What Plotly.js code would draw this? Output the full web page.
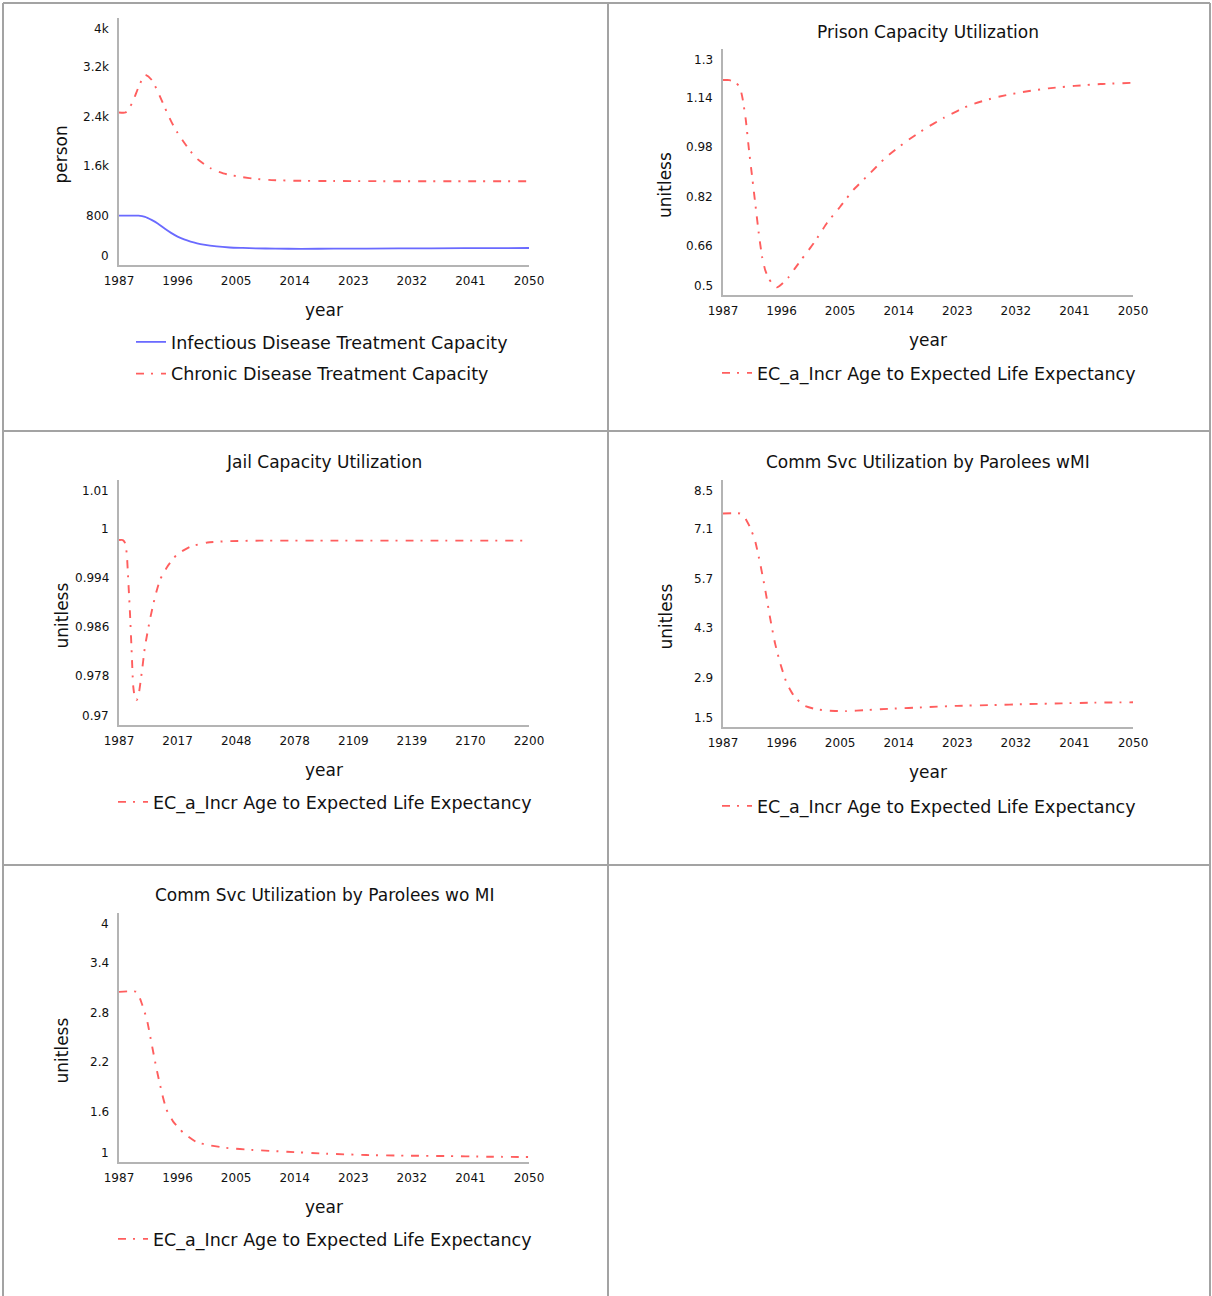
<!DOCTYPE html>
<html><head><meta charset="utf-8">
<script src="https://cdn.plot.ly/plotly-3.0.1.min.js"></script>
<style>html,body{margin:0;padding:0;background:#fff}#chart{width:1212px;height:1296px}</style>
</head><body><div id="chart"></div>
<script>
// ---------- data ----------
// Panel 1 (no title): person
const p1InfYears = [1987,1990,1991,1992,1993,1994,1995,1996,1997,1998,1999,2000,2002,2004,2006,2008,2011,2015,2020,2030,2040,2050];
const p1Infectious = [798,798,780,730,670,590,520,460,415,380,352,330,300,283,276,270,265,262,264,268,272,275];
const p1ChrYears = [1987,1988,1989,1990,1991,1992,1993,1994,1995,1996,1997,1998,1999,2000,2001,2002,2003,2004,2005,2006,2008,2010,2014,2020,2030,2040,2050];
const p1Chronic = [2470,2470,2620,2880,3080,3000,2800,2560,2330,2140,1985,1840,1720,1640,1570,1520,1485,1460,1440,1422,1395,1378,1365,1360,1357,1357,1357];
const p1YTicks = [0,800,1600,2400,3200,4000];
const p1YLabels = ['0','800','1.6k','2.4k','3.2k','4k'];

// Panel 2: Prison Capacity Utilization
const p2Years = [1987,1988,1989,1989.6,1990,1990.5,1991,1991.5,1992,1992.5,1993,1993.5,1994,1994.5,1995.3,1996,1997,1998,1999,2001,2003,2005,2007,2009.6,2012,2015,2018,2021,2025,2029,2033,2037,2041,2045,2050];
const p2Values = [1.199,1.199,1.19,1.175,1.14,1.07,0.97,0.88,0.79,0.70,0.625,0.58,0.555,0.538,0.525,0.535,0.556,0.585,0.614,0.67,0.735,0.787,0.841,0.896,0.947,0.997,1.04,1.077,1.118,1.143,1.16,1.172,1.18,1.186,1.19];
const p2YTicks = [0.5,0.66,0.82,0.98,1.14,1.3];
const p2YLabels = ['0.5','0.66','0.82','0.98','1.14','1.3'];

// Panel 3: Jail Capacity Utilization
const p3Years = [1987,1989,1990,1991,1991.8,1992.7,1993.6,1994.4,1995.3,1996.2,1997,1998.8,2000.5,2003,2005.7,2008.3,2012,2017,2024,2033,2043,2060,2100,2150,2200];
const p3Values = [1.0002,1.0002,0.9998,0.9981,0.9937,0.9883,0.9818,0.9763,0.9744,0.9741,0.9746,0.9785,0.9828,0.9871,0.9909,0.9937,0.9958,0.9978,0.9991,0.9998,1.0,1.0001,1.0001,1.0001,1.0001];
const p3XTicks = [1987,2017.43,2047.86,2078.29,2108.71,2139.14,2169.57,2200];
const p3XLabels = ['1987','2017','2048','2078','2109','2139','2170','2200'];
const p3YTicks = [0.97,0.978,0.986,0.994,1.002,1.01];
const p3YLabels = ['0.97','0.978','0.986','0.994','1','1.01'];

// Panel 4: Comm Svc Utilization by Parolees wMI
const p4Years = [1987,1989.6,1990.3,1991.1,1991.9,1992.7,1993.5,1994.2,1995,1995.8,1996.8,1997.8,1999.3,2001.4,2003.4,2006,2009,2013,2018,2023,2028,2034,2039,2044,2050];
const p4Values = [7.55,7.55,7.45,7.18,6.8,6.14,5.38,4.63,3.87,3.3,2.74,2.41,2.12,2.0,1.96,1.95,1.98,2.02,2.06,2.1,2.12,2.15,2.17,2.19,2.2];
const p4YTicks = [1.5,2.9,4.3,5.7,7.1,8.5];
const p4YLabels = ['1.5','2.9','4.3','5.7','7.1','8.5'];

// Panel 5: Comm Svc Utilization by Parolees wo MI
const p5Years = [1987,1989.7,1990.5,1991.3,1992,1992.8,1993.6,1994.3,1995.3,1996.9,1998.9,2001,2003.5,2007.6,2012.8,2018.9,2025,2031,2037,2043.5,2050];
const p5Values = [3.05,3.05,2.91,2.71,2.43,2.11,1.83,1.63,1.49,1.35,1.24,1.2,1.17,1.145,1.124,1.1,1.084,1.076,1.072,1.064,1.06];
const p5YTicks = [1,1.6,2.2,2.8,3.4,4];
const p5YLabels = ['1','1.6','2.2','2.8','3.4','4'];

const stdXTicks = [1987,1996,2005,2014,2023,2032,2041,2050];
const seriesName = 'EC_a_Incr Age to Expected Life Expectancy';

// ---------- styling ----------
const W = 1212, H = 1296;
const FONT = 'DejaVu Sans, Verdana, sans-serif';
const TXT = '#111';
const AXIS = '#b4b4b4';
const RED = '#ff5e5e';
const BLUE = '#6a6aff';
const DASH = '8px,7px,2px,8px';
const px = v => v / W;
const py = v => 1 - v / H;

const redLine = s => ({color: RED, width: 1.9, dash: DASH, shape: 'spline', smoothing: s});

const traces = [
  {x: p1InfYears, y: p1Infectious, name: 'Infectious Disease Treatment Capacity', xaxis: 'x', yaxis: 'y', legend: 'legend', legendgroup: 'a',
   mode: 'lines', line: {color: BLUE, width: 1.8, shape: 'spline', smoothing: 0.6}},
  {x: p1ChrYears, y: p1Chronic, name: 'Chronic Disease Treatment Capacity', xaxis: 'x', yaxis: 'y', legend: 'legend', legendgroup: 'b',
   mode: 'lines', line: redLine(0.6)},
  {x: p2Years, y: p2Values, name: seriesName, xaxis: 'x2', yaxis: 'y2', legend: 'legend2', mode: 'lines', line: redLine(0.5)},
  {x: p3Years, y: p3Values, name: seriesName, xaxis: 'x3', yaxis: 'y3', legend: 'legend3', mode: 'lines', line: redLine(0.5)},
  {x: p4Years, y: p4Values, name: seriesName, xaxis: 'x4', yaxis: 'y4', legend: 'legend4', mode: 'lines', line: redLine(0.5)},
  {x: p5Years, y: p5Values, name: seriesName, xaxis: 'x5', yaxis: 'y5', legend: 'legend5', mode: 'lines', line: redLine(0.5)}
];

// panel geometry in pixels: [left, right, bottom, top]
const panels = [
  {g: [119, 529, 265, 18], xr: [1987, 2050], xt: stdXTicks, xl: stdXTicks.map(String), yr: [0, 4000], yt: p1YTicks, yl: p1YLabels, ytitle: 'person', title: null, leg: [131, 358]},
  {g: [723, 1133, 295, 49], xr: [1987, 2050], xt: stdXTicks, xl: stdXTicks.map(String), yr: [0.5, 1.3], yt: p2YTicks, yl: p2YLabels, ytitle: 'unitless', title: ['Prison Capacity Utilization', 32], leg: [717, 373]},
  {g: [119, 529, 725, 480], xr: [1987, 2200], xt: p3XTicks, xl: p3XLabels, yr: [0.97, 1.01], yt: p3YTicks, yl: p3YLabels, ytitle: 'unitless', title: ['Jail Capacity Utilization', 462], leg: [113, 802]},
  {g: [723, 1133, 727, 480], xr: [1987, 2050], xt: stdXTicks, xl: stdXTicks.map(String), yr: [1.5, 8.5], yt: p4YTicks, yl: p4YLabels, ytitle: 'unitless', title: ['Comm Svc Utilization by Parolees wMI', 462], leg: [717, 806]},
  {g: [119, 529, 1162, 913], xr: [1987, 2050], xt: stdXTicks, xl: stdXTicks.map(String), yr: [1, 4], yt: p5YTicks, yl: p5YLabels, ytitle: 'unitless', title: ['Comm Svc Utilization by Parolees wo MI', 895], leg: [113, 1239]}
];

const layout = {
  width: W, height: H,
  margin: {l: 0, r: 0, t: 0, b: 0},
  paper_bgcolor: '#fff', plot_bgcolor: '#fff',
  font: {family: FONT, color: TXT, size: 12},
  annotations: [], shapes: []
};

panels.forEach((p, i) => {
  const n = i === 0 ? '' : String(i + 1);
  const [L, R, B, T] = p.g;
  layout['xaxis' + n] = {
    domain: [px(L), px(R)], range: p.xr, anchor: 'y' + n,
    showline: true, linecolor: AXIS, linewidth: 2, showgrid: false, zeroline: false,
    ticks: '', tickvals: p.xt, ticktext: p.xl, tickfont: {size: 12, color: TXT, family: FONT},
    ticklabelstandoff: 4,
    title: {text: 'year', font: {size: 17, color: TXT, family: FONT}, standoff: 17},
    fixedrange: true
  };
  layout['yaxis' + n] = {
    domain: [py(B), py(T)], range: p.yr, anchor: 'x' + n,
    showline: true, linecolor: AXIS, linewidth: 2, showgrid: false, zeroline: false,
    ticks: '', tickvals: p.yt, showticklabels: false,
    fixedrange: true
  };
  // y axis title (sits a little below the axis centre, as in the original)
  layout.annotations.push({
    xref: 'x' + n + ' domain', yref: 'y' + n + ' domain', x: 0, y: 0.5,
    xanchor: 'center', yanchor: 'middle', xshift: -58, yshift: -13, textangle: -90,
    text: p.ytitle, showarrow: false, font: {size: 17, color: TXT, family: FONT}
  });
  // y tick labels (extremes anchored inward like the original)
  p.yt.forEach((v, k) => {
    layout.annotations.push({
      xref: 'x' + n + ' domain', yref: 'y' + n, x: 0, y: v,
      xanchor: 'right', yanchor: k === 0 ? 'bottom' : (k === p.yt.length - 1 ? 'top' : 'middle'),
      xshift: -8, yshift: k === p.yt.length - 1 ? -2 : 0, text: p.yl[k], showarrow: false,
      font: {size: 12, color: TXT, family: FONT}
    });
  });
  if (p.title) {
    layout.annotations.push({
      xref: 'x' + n + ' domain', yref: 'paper', x: 0.5, y: py(p.title[1]),
      xanchor: 'center', yanchor: 'middle', text: p.title[0], showarrow: false,
      font: {size: 17, color: TXT, family: FONT}
    });
  }
  layout[i === 0 ? 'legend' : 'legend' + (i + 1)] = {
    x: px(p.leg[0]), y: py(p.leg[1]), xanchor: 'left', yanchor: 'middle',
    bgcolor: 'rgba(0,0,0,0)', borderwidth: 0,
    font: {size: 17.5, color: TXT, family: FONT},
    traceorder: 'grouped', tracegroupgap: 6
  };
});

// table cell borders
const BC = '#a3a3a3';
[[3, 3, 3, 1296], [608, 3, 608, 1296], [1210, 3, 1210, 1296],
 [3, 3, 1210, 3], [3, 431, 1210, 431], [3, 865, 1210, 865]].forEach(s => {
  layout.shapes.push({type: 'line', xref: 'paper', yref: 'paper',
    x0: px(s[0]), y0: py(s[1]), x1: px(s[2]), y1: py(s[3]),
    line: {color: BC, width: 2}});
});

Plotly.newPlot('chart', traces, layout, {displayModeBar: false, staticPlot: true});
</script>
</body></html>
